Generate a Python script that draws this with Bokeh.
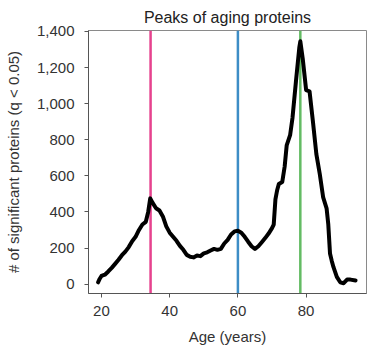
from bokeh.plotting import figure
from bokeh.models import Span, NumeralTickFormatter, FixedTicker, Range1d
from bokeh.embed import file_html
from bokeh.resources import INLINE

# Age (years) and number of significant proteins (q < 0.05)
ages = [19, 19.5, 20, 21, 22, 23, 24, 25, 26, 27, 28, 29, 30, 31, 32, 33, 33.7, 34.3,
        35, 36, 37, 38, 39, 40, 41, 42, 43, 44, 45, 46, 47, 48, 49, 50, 51, 52, 53,
        54, 55, 56, 57, 58, 59, 60, 61, 62, 63, 64, 65, 66, 67, 68, 69, 70, 70.5, 71,
        71.5, 72, 73, 73.7, 74.3, 75.3, 76, 77, 78, 78.3, 79, 80, 81, 82, 83, 84, 85,
        86, 86.5, 87, 87.5, 88, 89, 90, 91, 92, 93, 94.5]
proteins = [10, 30, 45, 52, 70, 90, 112, 135, 160, 180, 205, 238, 262, 300, 330, 345, 400, 475,
            450, 420, 408, 375, 320, 285, 262, 240, 212, 190, 162, 152, 148, 158, 155, 170, 176, 186, 195,
            190, 195, 225, 245, 275, 292, 296, 285, 262, 235, 210, 195, 210, 232, 255, 280, 310, 330, 470,
            520, 555, 566, 650, 768, 825, 920, 1120, 1310, 1345, 1250, 1075, 1068, 900, 720, 610, 480,
            420, 330, 170, 130, 95, 40, 10, 5, 25, 25, 20]

# Peak ages marked with vertical lines
peak_ages = [34.4, 60, 78.3]
peak_colors = ["#e6428e", "#3d8dc6", "#63bb63"]

x_ticks = [20, 40, 60, 80]
y_ticks = [0, 200, 400, 600, 800, 1000, 1200, 1400]

p = figure(width=374, height=354, output_backend="svg", toolbar_location=None,
           title="Peaks of aging proteins",
           x_range=Range1d(16.2, 97.7), y_range=Range1d(-52, 1405),
           min_border_left=88, min_border_right=8, min_border_top=30, min_border_bottom=61)

FONT = "Liberation Sans"

p.title.align = "center"
p.title.text_font = FONT
p.title.text_font_size = "16px"
p.title.text_font_style = "normal"
p.title.text_color = "#222222"
p.title.offset = 0
p.title.standoff = 0
p.title.padding = 5

p.grid.visible = False
p.outline_line_color = "#8a8a8a"
p.outline_line_width = 1
p.background_fill_color = "white"
p.border_fill_color = "white"

for c, a in zip(peak_colors, peak_ages):
    p.add_layout(Span(location=a, dimension="height", line_color=c, line_width=2.5, level="underlay"))

p.line(ages, proteins, line_color="black", line_width=4, line_join="round", line_cap="round")

p.xaxis.ticker = FixedTicker(ticks=x_ticks)
p.yaxis.ticker = FixedTicker(ticks=y_ticks)
p.yaxis.formatter = NumeralTickFormatter(format="0,0")

for ax in (p.xaxis[0], p.yaxis[0]):
    ax.axis_line_color = "#555555"
    ax.major_tick_line_color = "#555555"
    ax.major_tick_out = 4
    ax.major_tick_in = 0
    ax.minor_tick_line_color = None
    ax.major_label_text_font = FONT
    ax.major_label_text_font_size = "15px"
    ax.major_label_text_color = "#333333"
    ax.axis_label_text_font = FONT
    ax.axis_label_text_font_size = "15px"
    ax.axis_label_text_font_style = "normal"
    ax.axis_label_text_color = "#333333"

p.xaxis.axis_label = "Age (years)"
p.yaxis.axis_label = "# of significant proteins (q < 0.05)"
p.xaxis.major_label_standoff = 8
p.yaxis.major_label_standoff = 10
p.xaxis.axis_label_standoff = 9
p.yaxis.axis_label_standoff = 12

open("out.html", "w").write(file_html(p, INLINE))
